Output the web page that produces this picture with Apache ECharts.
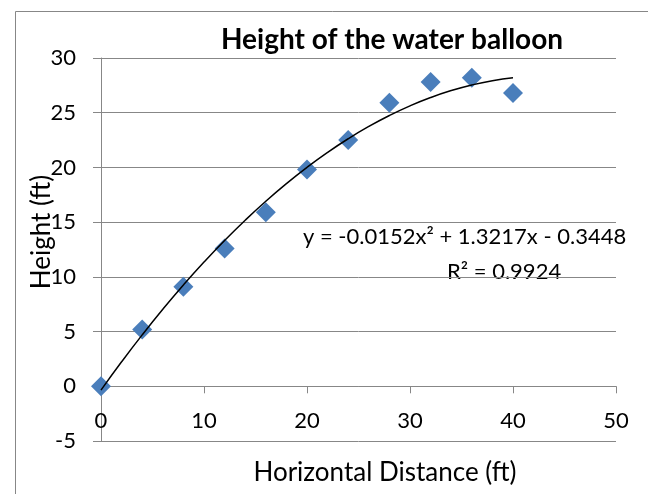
<!DOCTYPE html>
<html><head><meta charset="utf-8">
<script src="https://cdn.jsdelivr.net/npm/echarts@6/dist/echarts.min.js"></script>
<style>html,body{margin:0;padding:0;background:#fff}#c{width:648px;height:494px}</style>
</head><body><div id="c"></div>
<script>
var distance = [0, 4, 8, 12, 16, 20, 24, 28, 32, 36, 40];
var height = [0, 5.2, 9.1, 12.6, 15.9, 19.8, 22.5, 25.9, 27.8, 28.2, 26.8];
var trendX = [0, 2, 4, 6, 8, 10, 12, 14, 16, 18, 20, 22, 24, 26, 28, 30, 32, 34, 36, 38, 40];
var trendY = [-0.345, 2.238, 4.699, 7.038, 9.256, 11.352, 13.327, 15.180, 16.911, 18.521, 20.009, 21.376, 22.621, 23.744, 24.746, 25.626, 26.385, 27.022, 27.537, 27.931, 28.203];
var titleText = 'Height of the water balloon';
var xName = 'Horizontal Distance (ft)';
var yName = 'Height (ft)';
var eqText = 'y = -0.0152x\u00B2 + 1.3217x - 0.3448';
var r2Text = 'R\u00B2 = 0.9924';

var FONT = 'Lato, "Open Sans", sans-serif';
var GRAY = '#878787';
var chart = echarts.init(document.getElementById('c'));
chart.setOption({
  animation: false,
  backgroundColor: '#fff',
  grid: {left: 101, right: 32, top: 58, bottom: 53, containLabel: false},
  xAxis: {
    type: 'value', min: 0, max: 50, interval: 10,
    axisLine: {onZero: true, lineStyle: {color: GRAY, width: 1}},
    axisTick: {show: true, length: 7, inside: false, lineStyle: {color: GRAY}},
    axisLabel: {fontFamily: FONT, fontSize: 22, color: '#000', margin: -31},
    splitLine: {show: false}
  },
  yAxis: {
    type: 'value', min: -5, max: 30, interval: 5,
    axisLine: {show: true, onZero: false, lineStyle: {color: GRAY, width: 1}},
    axisTick: {show: true, length: 8, lineStyle: {color: GRAY}},
    axisLabel: {fontFamily: FONT, fontSize: 22, color: '#000', margin: 25},
    splitLine: {show: true, lineStyle: {color: GRAY, width: 1}}
  },
  graphic: [
    {type: 'rect', left: 13, top: 9, shape: {width: 700, height: 600}, style: {fill: 'none', stroke: GRAY, lineWidth: 1}, z: -1},
    {type: 'text', x: 392, y: 40, style: {text: titleText, font: 'bold 28px ' + FONT, fill: '#000', align: 'center', verticalAlign: 'middle'}},
    {type: 'text', x: 303, y: 237, style: {text: eqText, font: '22px ' + FONT, fill: '#000', align: 'left', verticalAlign: 'middle'}},
    {type: 'text', x: 447, y: 272, style: {text: r2Text, font: '22px ' + FONT, fill: '#000', align: 'left', verticalAlign: 'middle'}},
    {type: 'text', x: 385, y: 473, style: {text: xName, font: '26px ' + FONT, fill: '#000', align: 'center', verticalAlign: 'middle'}},
    {type: 'text', x: 42, y: 232, rotation: Math.PI / 2, style: {text: yName, font: '26px ' + FONT, fill: '#000', align: 'center', verticalAlign: 'middle'}}
  ],
  series: [
    {
      type: 'scatter', symbol: 'diamond', symbolSize: 20,
      itemStyle: {color: '#4A7EBB', opacity: 1},
      data: distance.map(function(d, i){ return [d, height[i]]; }),
      z: 3
    },
    {
      type: 'line', smooth: true, symbol: 'none',
      lineStyle: {color: '#000', width: 1.5},
      data: trendX.map(function(d, i){ return [d, trendY[i]]; }),
      z: 4
    }
  ]
});
</script></body></html>
